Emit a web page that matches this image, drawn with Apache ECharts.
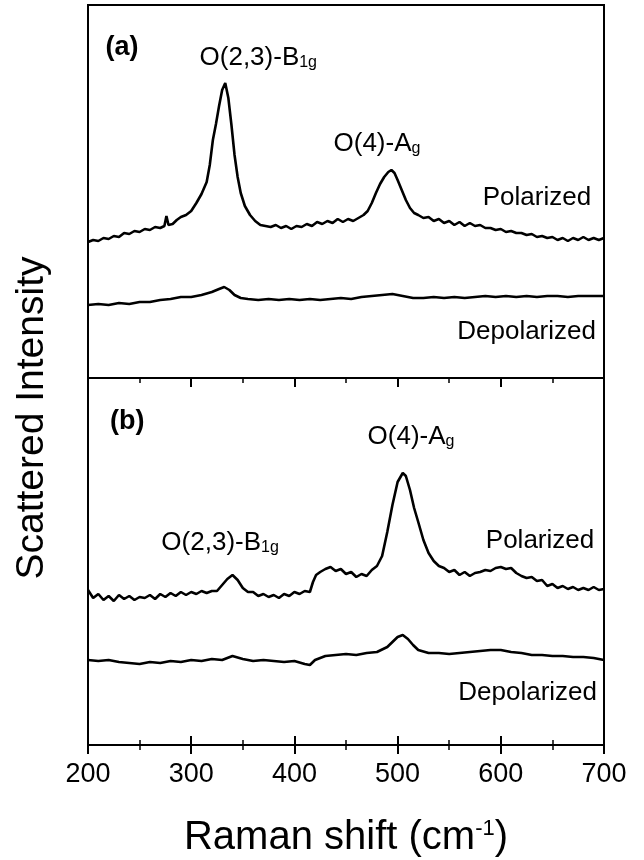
<!DOCTYPE html>
<html><head><meta charset="utf-8">
<script src="https://cdn.jsdelivr.net/npm/echarts@6/dist/echarts.min.js"></script>
<style>html,body{margin:0;padding:0;background:#fff}#c{width:644px;height:860px}</style>
</head><body><div id="c"></div><script>
// Panel (a) polarized
const shiftPolA = [200,205,210,215,220,225,230,235,240,245,250,255,260,265,270,274,276,278,282,286,290,295,300,305,310,315,318,321,324,327,330,333,336,339,342,345,348,352,357,362,367,372,377,382,387,392,397,402,407,412,417,422,427,432,437,442,447,452,457,462,467,471,475,479,483,487,491,494,497,500,504,508,512,516,520,525,530,535,540,545,550,555,560,565,570,575,580,585,590,595,600,605,610,615,620,625,630,635,640,645,650,655,660,665,670,675,680,685,690,695,700];
const intPolA = [136,138,137,140,139,142,141,145,144,147,146,149,148,151,150,152,162,153,154,158,161,163,167,175,184,196,213,238,254,272,288,295,280,253,223,201,185,172,163,157,153,152,151,153,150,152,149,152,151,154,152,156,154,157,155,159,156,159,157,160,163,167,175,185,194,201,206,208,205,198,188,178,170,165,163,160,161,157,159,155,157,153,156,152,155,152,153,150,150,148,149,146,147,145,145,143,144,141,142,140,141,138,140,137,140,138,141,138,140,138,140];
// Panel (a) depolarized
const shiftDepA = [200,210,220,230,240,250,260,270,280,290,300,310,320,327,332,337,342,348,355,365,375,385,395,405,415,425,435,445,455,465,475,485,495,505,515,525,535,545,555,565,575,585,595,605,615,625,635,645,655,665,675,685,700];
const intDepA = [73,74,73,75,74,76,76,78,79,81,81,83,86,89,91,88,83,80,79,78,79,78,79,78,79,78,79,80,79,81,82,83,84,82,80,80,81,80,81,80,81,82,81,82,81,82,81,82,82,81,82,82,82];
// Panel (b) polarized
const shiftPolB = [200,205,210,215,220,225,230,235,240,245,250,255,260,265,270,275,280,285,290,295,300,305,310,315,320,325,330,335,340,345,350,355,360,365,370,375,380,385,390,395,400,405,410,415,418,421,425,430,435,440,445,450,455,460,465,470,475,480,485,490,495,500,505,508,512,516,520,525,530,535,540,545,550,555,560,565,570,575,580,585,590,595,600,605,610,615,620,625,630,635,640,645,650,655,660,665,670,675,680,685,690,695,700];
const intPolB = [155,147,151,145,149,144,150,146,149,145,148,147,150,146,151,148,152,149,153,150,153,151,154,152,154,154,160,166,170,165,157,153,153,149,151,148,150,147,151,149,153,151,154,153,163,170,173,176,178,174,176,171,173,168,171,169,175,179,189,213,240,263,272,269,255,237,223,205,192,184,179,177,173,175,170,173,169,172,173,175,174,177,178,176,177,172,169,167,168,164,165,159,161,157,159,156,158,155,157,155,158,155,156];
// Panel (b) depolarized
const shiftDepB = [200,210,220,230,240,250,260,270,280,290,300,310,320,330,340,350,360,370,380,390,400,410,415,420,430,440,450,460,470,480,490,495,500,505,510,515,520,530,540,550,560,570,580,590,600,610,620,630,640,650,660,670,680,690,700];
const intDepB = [85,84,85,83,82,81,83,82,84,83,85,84,86,85,89,86,84,85,84,83,84,81,80,85,89,90,91,90,92,93,98,103,108,110,106,100,95,92,92,91,92,93,94,95,95,93,92,90,90,89,89,88,88,87,85];

const xTickLabels = ['200','300','400','500','600','700'];

// Annotations (text, shift, intensity)
const annotTextA = ['{b|(a)}', '{m|O(2,3)-B}{s|1g}', '{m|O(4)-A}{s|g}', '{m|Polarized}', '{m|Depolarized}'];
const annotShiftA = [233, 365, 480, 635, 625];
const annotIntA = [330, 323, 237, 183, 49];
const annotTextB = ['{b|(b)}', '{m|O(2,3)-B}{s|1g}', '{m|O(4)-A}{s|g}', '{m|Polarized}', '{m|Depolarized}'];
const annotShiftB = [238, 328, 513, 638, 626];
const annotIntB = [323, 205, 311, 207, 55];

const FONT = "'Liberation Sans', Arial, Helvetica, sans-serif";
const zip = (xs, ys) => xs.map((x, i) => [x, ys[i]]);

const richG = {
  m: {fontSize: 26, fontFamily: FONT, fill: '#000', lineHeight: 32, verticalAlign: 'bottom'},
  s: {fontSize: 16, fontFamily: FONT, fill: '#000', lineHeight: 12, verticalAlign: 'bottom'},
  b: {fontSize: 27, fontFamily: FONT, fontWeight: 'bold', fill: '#000'}
};

const tickAxis = (grid, pos, withLabels) => ({
  type: 'value', gridIndex: grid, position: pos, min: 200, max: 700, interval: 100,
  axisLine: {show: false},
  axisTick: {show: true, inside: true, length: 9, lineStyle: {color: '#000', width: 2}},
  minorTick: {show: true, splitNumber: 2, length: 5, lineStyle: {color: '#000', width: 1.5}},
  splitLine: {show: false}, minorSplitLine: {show: false},
  axisLabel: withLabels ? {show: true, color: '#000', fontSize: 27, fontFamily: FONT, margin: 16,
    formatter: v => xTickLabels[Math.round((v - 200) / 100)] || ''} : {show: false}
});

const xBottom = tickAxis(1, 'bottom', true);
xBottom.name = '{m|Raman shift (cm}{p|-1}{m|)}';
xBottom.nameLocation = 'middle';
xBottom.nameGap = 73;
xBottom.nameTextStyle = {
  rich: {
    m: {fontSize: 40, fontFamily: FONT, color: '#000', lineHeight: 46, verticalAlign: 'top'},
    p: {fontSize: 22, fontFamily: FONT, color: '#000', lineHeight: 18, verticalAlign: 'top'}
  }
};

const lineStyle = {color: '#000', width: 2.6};
const lineSeries = (xi, yi, data) => ({
  type: 'line', xAxisIndex: xi, yAxisIndex: yi, data: data, showSymbol: false, symbol: 'none',
  lineStyle: lineStyle, smooth: false, silent: true
});

const chart = echarts.init(document.getElementById('c'), null, {renderer: 'canvas'});
chart.setOption({
  animation: false,
  backgroundColor: '#fff',
  grid: [
    {left: 88, right: 40, top: 5, height: 373, show: true, borderColor: '#000', borderWidth: 2, backgroundColor: 'transparent'},
    {left: 88, right: 40, top: 378, height: 367, show: true, borderColor: '#000', borderWidth: 2, backgroundColor: 'transparent'}
  ],
  xAxis: [tickAxis(0, 'top', false), tickAxis(1, 'top', false), xBottom],
  yAxis: [
    {type: 'value', gridIndex: 0, min: 0, max: 373, show: false},
    {type: 'value', gridIndex: 1, min: 0, max: 367, show: false}
  ],
  series: [
    lineSeries(0, 0, zip(shiftPolA, intPolA)),
    lineSeries(0, 0, zip(shiftDepA, intDepA)),
    lineSeries(2, 1, zip(shiftPolB, intPolB)),
    lineSeries(2, 1, zip(shiftDepB, intDepB))
  ]
});

// Annotation text placed through the axes' own scales
const graphics = [{
  type: 'text', x: 32, y: 418, rotation: Math.PI / 2,
  style: {text: 'Scattered Intensity', fontSize: 39, fontFamily: FONT, fill: '#000', align: 'center', verticalAlign: 'middle'}
}];
const addAnnots = (xi, yi, xs, ys, ts) => xs.forEach((x, i) => {
  const p = chart.convertToPixel({xAxisIndex: xi, yAxisIndex: yi}, [x, ys[i]]);
  graphics.push({type: 'text', x: p[0], y: p[1], silent: true,
    style: {text: ts[i], rich: richG, fill: '#000', align: 'center', verticalAlign: 'middle'}});
});
addAnnots(0, 0, annotShiftA, annotIntA, annotTextA);
addAnnots(2, 1, annotShiftB, annotIntB, annotTextB);
chart.setOption({graphic: graphics});
</script></body></html>
